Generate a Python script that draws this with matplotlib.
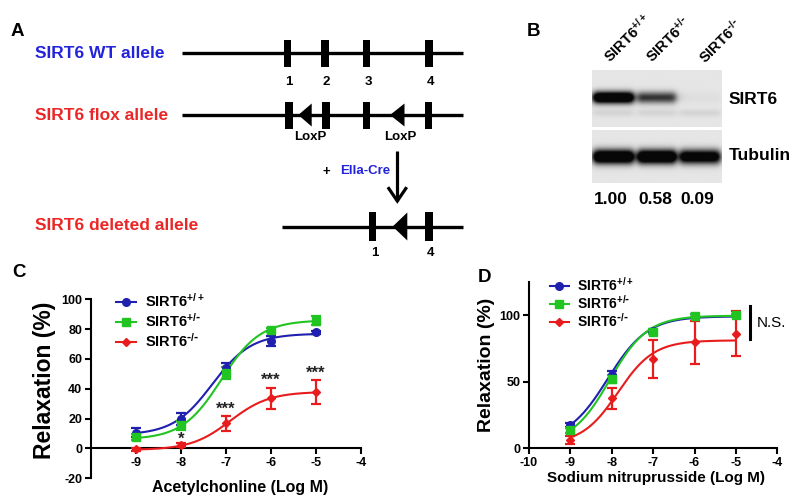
import numpy as np
import matplotlib
matplotlib.use('Agg')
import matplotlib.pyplot as plt
from matplotlib.lines import Line2D
from matplotlib.patches import Rectangle, Polygon

plt.rcParams['font.family'] = ['Liberation Sans', 'DejaVu Sans']
plt.rcParams['font.weight'] = 'bold'
plt.rcParams['mathtext.default'] = 'regular'
plt.rcParams['axes.linewidth'] = 1.5
plt.rcParams['axes.unicode_minus'] = False

W, H = 800, 496

# ---------------- data ----------------
conc = [-9, -8, -7, -6, -5]
series_labels = [r'SIRT6$^{+/+}$', r'SIRT6$^{+/\text{-}}$', r'SIRT6$^{\text{-}/\text{-}}$']
colors = ['#1f1fb0', '#22c422', '#e81c1c']
markers = ['o', 's', 'D']

# Panel C: acetylcholine
ach_wt = [10.5, 20, 54, 72, 78]
ach_wt_err = [3, 4, 3, 3.5, 1]
ach_het = [7.5, 15.5, 50.5, 79.5, 85.5]
ach_het_err = [2, 3, 4, 1.5, 3]
ach_ko = [-0.5, 2.5, 17, 33.5, 38]
ach_ko_err = [1, 1.5, 5, 7, 8]
# fitted curves: bottom, top, logEC50, hill slope
ach_fit_wt = (9, 77, -7.3, 1.0)
ach_fit_het = (6, 86, -7.1, 1.0)
ach_fit_ko = (-1, 38, -6.9, 1.0)
ach_sig_x = [-8, -7, -6, -5]
ach_sig_y = [6, 26, 45.5, 50.5]
ach_sig_txt = ['*', '***', '***', '***']

# Panel D: sodium nitroprusside
snp_wt = [17.5, 55, 88, 99.5, 100]
snp_wt_err = [1.5, 3, 1.5, 1, 1]
snp_het = [13.5, 52, 87.5, 99.5, 100]
snp_het_err = [2, 3, 2, 1, 1]
snp_ko = [6.5, 37.5, 67, 79.5, 86]
snp_ko_err = [3, 8, 14, 16, 17]
snp_fit_wt = (5, 99, -8.1, 0.9)
snp_fit_het = (3, 99.5, -8.05, 0.95)
snp_fit_ko = (3, 81, -7.85, 1.0)

# Panel B: western blot
blot_lanes = [r'SIRT6$^{+/+}$', r'SIRT6$^{+/\text{-}}$', r'SIRT6$^{\text{-}/\text{-}}$']
sirt6_band = [1.0, 0.5, 0.02]
tubulin_band = [1.0, 1.0, 0.85]
quant = ['1.00', '0.58', '0.09']

# Panel A: gene schematic
wt_exons = ['1', '2', '3', '4']
del_exons = ['1', '4']


def logistic(x, p):
    b, t, ec, h = p
    return b + (t - b) / (1 + 10 ** ((ec - x) * h))


fig = plt.figure(figsize=(W / 100, H / 100), dpi=100)
fig.patch.set_facecolor('white')

# overlay axes in pixel coordinates
ax0 = fig.add_axes([0, 0, 1, 1])
ax0.set_xlim(0, W)
ax0.set_ylim(H, 0)
ax0.axis('off')

BLUE_T = '#2323dc'
RED_T = '#ea2626'

# ---------------- Panel A ----------------
ax0.text(11, 32, 'A', fontsize=13.5, ha='left', va='center')
ax0.text(35, 53, 'SIRT6 WT allele', color=BLUE_T, fontsize=12.5, ha='left', va='center')
ax0.text(35, 115, 'SIRT6 flox allele', color=RED_T, fontsize=12.5, ha='left', va='center')
ax0.text(35, 226, 'SIRT6 deleted allele', color=RED_T, fontsize=12.5, ha='left', va='center')

LW = 2.4


def gene_line(x0, x1, y):
    ax0.plot([x0, x1], [y, y], color='black', lw=LW, solid_capstyle='butt')


def exon(xc, y, h=27, w=7.5):
    ax0.add_patch(Rectangle((xc - w / 2, y - h / 2), w, h, color='black', lw=0))


def loxp(xtip, xbase, y, hh=11.5):
    ax0.add_patch(Polygon([[xtip, y], [xbase, y - hh], [xbase, y + hh]], closed=True, color='black', lw=0))


# WT
gene_line(181.7, 462.7, 53.3)
wt_x = [287.5, 325, 366.7, 428.8]
for xc, lab in zip(wt_x, wt_exons):
    exon(xc, 53.3)
    ax0.text(xc + 1.5, 82, lab, fontsize=9.5, ha='center', va='center')
# flox
gene_line(181.7, 462.7, 115)
flox_x = [289, 325.8, 366.7, 428.3]
for xc in flox_x:
    exon(xc, 115)
loxp(298.3, 311.7, 115)
loxp(390, 404.5, 115)
ax0.text(310, 137.5, 'LoxP', fontsize=9.5, ha='center', va='center')
ax0.text(400, 137.5, 'LoxP', fontsize=9.5, ha='center', va='center')
# arrow
ax0.plot([397.3, 397.3], [151, 200.5], color='black', lw=2.3, solid_capstyle='butt')
ax0.plot([388.8, 397.3, 405.8], [188.5, 201, 188.5], color='black', lw=2.3, solid_joinstyle='miter')
ax0.text(326, 171.5, '+', fontsize=9.5, ha='center', va='center')
ax0.text(340, 171.5, 'Ella-Cre', fontsize=9.5, ha='left', va='center', color=BLUE_T)
# deleted
gene_line(281.7, 462.7, 226.5)
for xc in [372.5, 428.8]:
    exon(xc, 226.5, h=29)
loxp(392.7, 407.3, 226.5, hh=14)
for xc, lab in zip([374.5, 430.5], del_exons):
    ax0.text(xc, 253, lab, fontsize=9.5, ha='center', va='center')

# ---------------- Panel B ----------------
ax0.text(527, 32, 'B', fontsize=13.5, ha='left', va='center')
lab_pos = [(610.5, 63), (652, 63), (705, 64.5)]
for (x, y), lab in zip(lab_pos, blot_lanes):
    ax0.text(x, y, lab, rotation=45, rotation_mode='anchor', ha='left', va='baseline', fontsize=10.5)

bx0, bx1 = 591.7, 721.0
lane_cx = [613.0, 656.3, 699.2]
lane_w = [40, 38, 40]


def blot(y0, y1, band_int, cy, sy, faint=None):
    res = 4
    xs = np.arange(bx0, bx1, 1 / res)
    ys = np.arange(y0, y1, 1 / res)
    X, Y = np.meshgrid(xs, ys)
    dark = np.zeros_like(X)
    for cx, w, a in zip(lane_cx, lane_w, band_int):
        px = 1 / (1 + ((X - cx) / (w / 2)) ** 10)
        py = np.exp(-((Y - cy) / sy) ** 2)
        dark += a * px * py
        if faint is not None:
            dark += 0.05 * px * np.exp(-((Y - faint) / 3.5) ** 2)
    dark = np.clip(1.6 * dark, 0, 1)
    img = 0.9 - 0.87 * dark
    ax0.imshow(img, cmap='gray', vmin=0, vmax=1, extent=(bx0, bx1, y1, y0),
               aspect='auto', interpolation='bilinear', zorder=1)


blot(70, 126.7, sirt6_band, 97.3, 5.8, faint=112.5)
blot(130, 182.7, tubulin_band, 156.5, 7.0)
ax0.set_xlim(0, W)
ax0.set_ylim(H, 0)
ax0.text(729, 100, 'SIRT6', fontsize=12.5, ha='left', va='center')
ax0.text(729, 155, 'Tubulin', fontsize=12.5, ha='left', va='center')
for xc, q in zip([611, 655, 697.3], quant):
    ax0.text(xc, 199, q, fontsize=12.5, ha='center', va='center')

# ---------------- Panel C ----------------
def fx(x):
    return x / W


def fy(y):
    return 1 - y / H


def style_axes(ax, ylo, yhi):
    ax.set_facecolor('none')
    ax.spines['top'].set_visible(False)
    ax.spines['right'].set_visible(False)
    ax.spines['left'].set_bounds(ylo, yhi)
    ax.spines['bottom'].set_position(('data', 0))
    ax.tick_params(direction='out', length=4, width=1.5, labelsize=9, pad=2)


def draw_series(ax, ys_list, errs_list, fits, span):
    xx = np.linspace(span[0], span[1], 200)
    for ys, es, p, c, m in zip(ys_list, errs_list, fits, colors, markers):
        ax.plot(xx, logistic(xx, p), color=c, lw=1.5, clip_on=False, zorder=3)
        ax.errorbar(conc, ys, yerr=es, fmt='none', ecolor=c, elinewidth=1.6,
                    capsize=3.5, capthick=1.6, clip_on=False, zorder=4)
        ms = 5.5 if m != 'D' else 4.5
        ax.plot(conc, ys, linestyle='none', marker=m, color=c, markersize=ms,
                clip_on=False, zorder=5)


axC = fig.add_axes([fx(90.7), fy(478.3), fx(270), 179 / H], zorder=2)
axC.set_xlim(-10, -4)
axC.set_ylim(-20, 100)
style_axes(axC, -20, 100)
axC.set_xticks([-9, -8, -7, -6, -5, -4])
axC.set_yticks([-20, 0, 20, 40, 60, 80, 100])
draw_series(axC, [ach_wt, ach_het, ach_ko], [ach_wt_err, ach_het_err, ach_ko_err],
            [ach_fit_wt, ach_fit_het, ach_fit_ko], (-9, -5))
for x, y, t in zip(ach_sig_x, ach_sig_y, ach_sig_txt):
    axC.text(x, y, t, fontsize=12, ha='center', va='center', color='#222222')
handles = [Line2D([], [], color=c, marker=m, markersize=(5.5 if m != 'D' else 4.5), lw=1.5)
           for c, m in zip(colors, markers)]
axC.legend(handles, series_labels, loc='upper left', bbox_to_anchor=(fx(116), fy(292)),
           bbox_transform=fig.transFigure, frameon=False, fontsize=10.5, handlelength=1.4,
           handletextpad=0.6, labelspacing=0.15, borderpad=0, borderaxespad=0)
fig.text(fx(45), fy(380), 'Relaxation (%)', rotation=90, fontsize=16.5, ha='center', va='center')
fig.text(fx(240), fy(487.7), 'Acetylchonline (Log M)', fontsize=11.5, ha='center', va='center')
fig.text(fx(12), fy(272.7), 'C', fontsize=13.5, ha='left', va='center')

# ---------------- Panel D ----------------
axD = fig.add_axes([fx(529), fy(448.3), fx(248.3), (448.3 - 281.7) / H], zorder=2)
axD.set_xlim(-10, -4)
axD.set_ylim(0, 125)
style_axes(axD, 0, 125)
axD.set_xticks([-10, -9, -8, -7, -6, -5, -4])
axD.set_yticks([0, 50, 100])
draw_series(axD, [snp_wt, snp_het, snp_ko], [snp_wt_err, snp_het_err, snp_ko_err],
            [snp_fit_wt, snp_fit_het, snp_fit_ko], (-9, -5))
axD.legend(handles, series_labels, loc='upper left', bbox_to_anchor=(fx(549.5), fy(276)),
           bbox_transform=fig.transFigure, frameon=False, fontsize=10, handlelength=1.4,
           handletextpad=0.6, labelspacing=0.0, borderpad=0, borderaxespad=0)
axD.plot([-4.66, -4.66], [82, 106.5], color='black', lw=2.2, clip_on=False)
axD.text(-4.5, 94, 'N.S.', fontsize=11, fontweight='normal', ha='left', va='center')
fig.text(fx(486.7), fy(365), 'Relaxation (%)', rotation=90, fontsize=14, ha='center', va='center')
fig.text(fx(655.8), fy(478.3), 'Sodium nitruprusside (Log M)', fontsize=11, ha='center', va='center')
fig.text(fx(478), fy(278), 'D', fontsize=13.5, ha='left', va='center')

fig.savefig('out.png', dpi=100, facecolor='white')
